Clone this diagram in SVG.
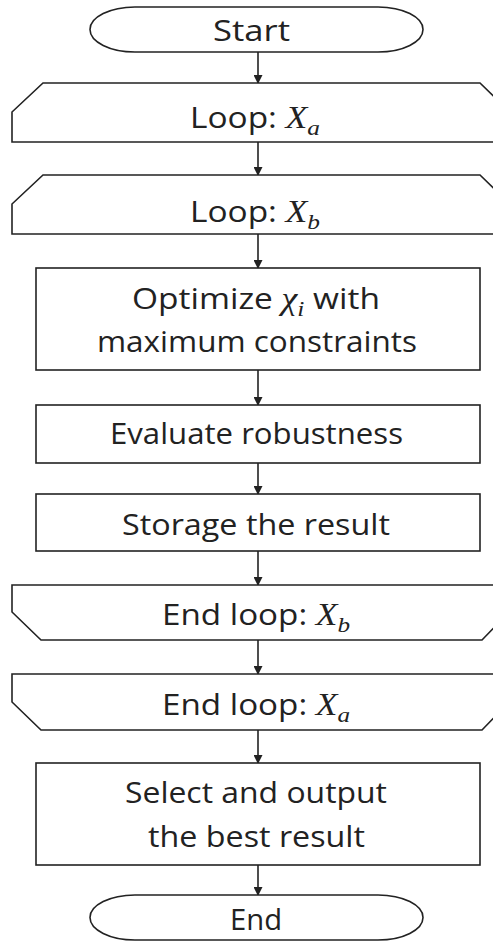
<svg xmlns="http://www.w3.org/2000/svg" width="493" height="942" viewBox="0 0 493 942">
<style>
.s{fill:#fff;stroke:#222;stroke-width:1.6}
.t{font-family:"Open Sans","Liberation Sans",sans-serif;font-size:29px;fill:#222;text-anchor:middle}
.m{font-family:"Liberation Serif","DejaVu Serif",serif;font-style:italic}
.c{stroke:#222;stroke-width:1.6;fill:none}
</style>
<defs>
<marker id="ah" markerWidth="9" markerHeight="9" refX="8" refY="4.5" orient="auto" markerUnits="userSpaceOnUse">
<path d="M0,0 L9,4.5 L0,9 Z" fill="#222"/>
</marker>
</defs>
<rect width="493" height="942" fill="#fff"/>
<g id="connectors">
<line class="c" x1="258" y1="52" x2="258" y2="83" marker-end="url(#ah)"/>
<line class="c" x1="258" y1="142" x2="258" y2="175" marker-end="url(#ah)"/>
<line class="c" x1="258" y1="234" x2="258" y2="268" marker-end="url(#ah)"/>
<line class="c" x1="258" y1="370" x2="258" y2="405" marker-end="url(#ah)"/>
<line class="c" x1="258" y1="463" x2="258" y2="494" marker-end="url(#ah)"/>
<line class="c" x1="258" y1="551" x2="258" y2="585" marker-end="url(#ah)"/>
<line class="c" x1="258" y1="640" x2="258" y2="674" marker-end="url(#ah)"/>
<line class="c" x1="258" y1="730" x2="258" y2="763" marker-end="url(#ah)"/>
<line class="c" x1="258" y1="865" x2="258" y2="895" marker-end="url(#ah)"/>
</g>
<g id="start">
<path class="s" d="M135,7 L378,7 A45,22.5 0 0 1 378,52 L135,52 A45,22.5 0 0 1 135,7 Z"/>
<text class="t" x="251.5" y="41" textLength="77" lengthAdjust="spacingAndGlyphs">Start</text>
</g>
<g id="loopA">
<path class="s" d="M43,83 L480,83 L510,112 L510,142 L12,142 L12,112 Z"/>
<text class="t" x="255" y="128" textLength="130" lengthAdjust="spacingAndGlyphs">Loop: <tspan class="m" font-size="31">X</tspan><tspan class="m" font-size="22" dy="7">a</tspan></text>
</g>
<g id="loopB">
<path class="s" d="M43,175 L480,175 L510,204 L510,234 L12,234 L12,204 Z"/>
<text class="t" x="255" y="222" textLength="130" lengthAdjust="spacingAndGlyphs">Loop: <tspan class="m" font-size="31">X</tspan><tspan class="m" font-size="22" dy="7">b</tspan></text>
</g>
<g id="optimize">
<rect class="s" x="36" y="268" width="444" height="102"/>
<text class="t" x="256" y="309" textLength="248" lengthAdjust="spacingAndGlyphs">Optimize <tspan class="m" font-size="31">χ</tspan><tspan class="m" font-size="22" dy="7">i</tspan><tspan dy="-7"> with</tspan></text>
<text class="t" x="257" y="352" textLength="320" lengthAdjust="spacingAndGlyphs">maximum constraints</text>
</g>
<g id="evaluate">
<rect class="s" x="36" y="405" width="444" height="58"/>
<text class="t" x="256.5" y="444" textLength="293" lengthAdjust="spacingAndGlyphs">Evaluate robustness</text>
</g>
<g id="storage">
<rect class="s" x="36" y="494" width="444" height="57"/>
<text class="t" x="256" y="535" textLength="268" lengthAdjust="spacingAndGlyphs">Storage the result</text>
</g>
<g id="endLoopB">
<path class="s" d="M12,585 L510,585 L510,611 L482,640 L41,640 L12,612 Z"/>
<text class="t" x="256" y="625" textLength="188" lengthAdjust="spacingAndGlyphs">End loop: <tspan class="m" font-size="31">X</tspan><tspan class="m" font-size="22" dy="7">b</tspan></text>
</g>
<g id="endLoopA">
<path class="s" d="M12,674 L510,674 L510,701 L482,730 L41,730 L12,702 Z"/>
<text class="t" x="256" y="715" textLength="188" lengthAdjust="spacingAndGlyphs">End loop: <tspan class="m" font-size="31">X</tspan><tspan class="m" font-size="22" dy="7">a</tspan></text>
</g>
<g id="select">
<rect class="s" x="36" y="763" width="444" height="102"/>
<text class="t" x="256" y="803" textLength="262" lengthAdjust="spacingAndGlyphs">Select and output</text>
<text class="t" x="256.5" y="847" textLength="217" lengthAdjust="spacingAndGlyphs">the best result</text>
</g>
<g id="end">
<path class="s" d="M135,895 L378,895 A45,22.5 0 0 1 378,940 L135,940 A45,22.5 0 0 1 135,895 Z"/>
<text class="t" x="256" y="930" textLength="52" lengthAdjust="spacingAndGlyphs">End</text>
</g>
</svg>
